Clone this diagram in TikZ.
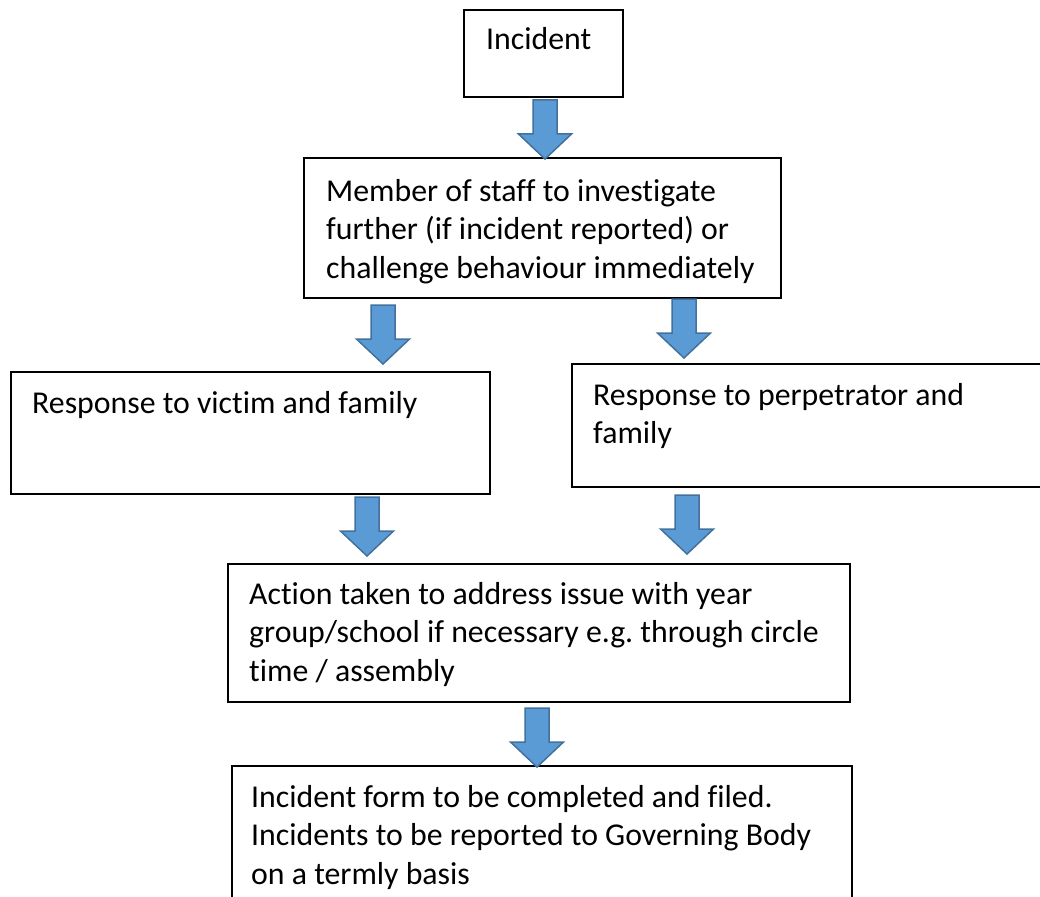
\documentclass[tikz,border=0pt]{standalone}
\usepackage{fontspec}
\setmainfont{Carlito}[Ligatures=NoCommon]
\usepackage{tikz}
\frenchspacing
\definecolor{arrowblue}{HTML}{5B9BD5}
\definecolor{arrowedge}{HTML}{41719C}
\tikzset{
box/.style={draw, line width=1.8pt, anchor=north west, inner sep=0pt},
txt/.style={anchor=base west, inner sep=0pt, font={\fontsize{31.8}{38.5}\selectfont}},
downarrow/.pic={
  \draw[fill=arrowblue, draw=arrowedge, line width=1.5pt, line join=miter]
    (-12,0) -- (12,0) -- (12,34) -- (26.5,34) -- (0,59) -- (-26.5,34) -- (-12,34) -- cycle;
  }
}

\begin{document}
\begin{tikzpicture}[x=1pt, y=-1pt]
\useasboundingbox (0,0) rectangle (1040,896);

\node[box, minimum width=159pt, minimum height=87pt] (incident) at (463,9) {};
\node[box, minimum width=477pt, minimum height=140pt] (staff) at (303,157) {};
\node[box, minimum width=479pt, minimum height=122pt] (victim) at (10,371) {};
\node[box, minimum width=480pt, minimum height=123pt] (perp) at (571,363) {};
\node[box, minimum width=622pt, minimum height=138pt] (action) at (227,563) {};
\node[box, minimum width=620pt, minimum height=145pt] (form) at (231,765) {};

\node[txt] (incidenttxt) at (486,50) {Incident};
\node[txt] (stafftxt) at (326,201) {\parbox[t]{460pt}{Member of staff to investigate\\
  further (if incident reported) or\\ challenge behaviour immediately}};
\node[txt] (victimtxt) at (32,413) {Response to victim and family};
\node[txt] (perptxt) at (593,405) {\parbox[t]{440pt}{Response to perpetrator and\\ family}};
\node[txt] (actiontxt) at (249,604) {\parbox[t]{600pt}{Action taken to address issue with year\\
  group/school if necessary e.g. through circle\\ time / assembly}};
\node[txt] (formtxt) at (251,807) {\parbox[t]{600pt}{Incident form to be completed and filed.\\
  Incidents to be reported to Governing Body\\ on a termly basis}};

\pic at (545,100) {downarrow};
\pic at (383,305) {downarrow};
\pic at (684,299) {downarrow};
\pic at (367,497) {downarrow};
\pic at (687,495) {downarrow};
\pic at (537,708) {downarrow};

\end{tikzpicture}
\end{document}
